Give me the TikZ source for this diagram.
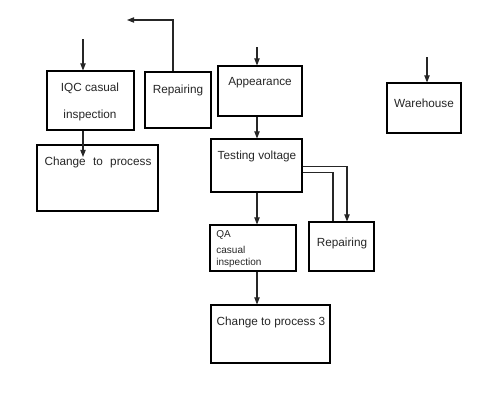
\documentclass[tikz,border=0pt]{standalone}
\usepackage{fontspec}
\setmainfont{Liberation Sans}
\usetikzlibrary{arrows.meta,calc}
\begin{document}
\begin{tikzpicture}[x=0.02cm,y=-0.02cm,
  box/.style={draw=black,line width=0.6pt,inner sep=0pt,minimum width=#1},
  lbl/.style={inner sep=0pt,font=\fontsize{6.7}{8}\selectfont,text=black!85},
  small/.style={inner sep=0pt,font=\fontsize{5.7}{7}\selectfont,text=black!85,anchor=west},
  conn/.style={draw=black!85,line width=0.6pt},
  arr/.style={conn,-{Triangle[length=4pt,width=3pt]}}]
\useasboundingbox (0,0) rectangle (500,406);
% boxes
\node[box=87*0.02cm,minimum height=59*0.02cm] (iqc) at (90.5,100.5) {};
\node[box=66*0.02cm,minimum height=56*0.02cm] (rep1) at (178,100) {};
\node[box=121*0.02cm,minimum height=66*0.02cm] (chg) at (97.5,178) {};
\node[box=84*0.02cm,minimum height=50*0.02cm] (app) at (260,91) {};
\node[box=91*0.02cm,minimum height=53*0.02cm] (test) at (256.5,165.5) {};
\node[box=86*0.02cm,minimum height=46*0.02cm] (qa) at (253,248) {};
\node[box=65*0.02cm,minimum height=49*0.02cm] (rep2) at (341.5,246.5) {};
\node[box=119*0.02cm,minimum height=58*0.02cm] (chg3) at (270.5,334) {};
\node[box=74*0.02cm,minimum height=50*0.02cm] (wh) at (424,108) {};
% labels
\node[lbl] (t1) at (90,88) {IQC casual};
\node[lbl] (t2) at (90,115) {inspection};
\node[lbl] (t3) at (178,90) {Repairing};
\node[lbl] (t4) at (98,162) {Change\hspace{2.3pt} to\hspace{2.3pt} process};
\node[lbl] (t5) at (260,83) {Appearance};
\node[lbl] (t6) at (257,156) {Testing voltage};
\node[small] (t7) at (216,235) {QA};
\node[small] (t8) at (216,250) {casual};
\node[small] (t9) at (216,263) {inspection};
\node[lbl] (t10) at (342,243) {Repairing};
\node[lbl] (t11) at (271,322) {Change to process 3};
\node[lbl] (t12) at (424,103) {Warehouse};
% free ends
\coordinate (s1) at (83,39);
\coordinate (s2) at (257,47);
\coordinate (s3) at (427,57);
\coordinate (e1) at (83,157);
\coordinate (r1) at (173,20);
\coordinate (r2) at (127,20);
\coordinate (x1) at (257,0);
\coordinate (x2) at (347,0);
\coordinate (x3) at (333,0);
% connectors
\draw[arr] (s1) -- (s1 |- iqc.north);
\draw[arr] (e1 |- iqc.south) -- (e1);
\draw[arr] (r1 |- rep1.north) -- (r1) -- (r2);
\draw[arr] (s2) -- (s2 |- app.north);
\draw[arr] (x1 |- app.south) -- (x1 |- test.north);
\draw[arr] (x1 |- test.south) -- (x1 |- qa.north);
\draw[arr] ($(test.north east)+(0,28)$) -| (x2 |- rep2.north);
\draw[conn] ($(test.north east)+(0,34)$) -| (x3 |- rep2.north);
\draw[arr] (x1 |- qa.south) -- (x1 |- chg3.north);
\draw[arr] (s3) -- (s3 |- wh.north);
\end{tikzpicture}
\end{document}
